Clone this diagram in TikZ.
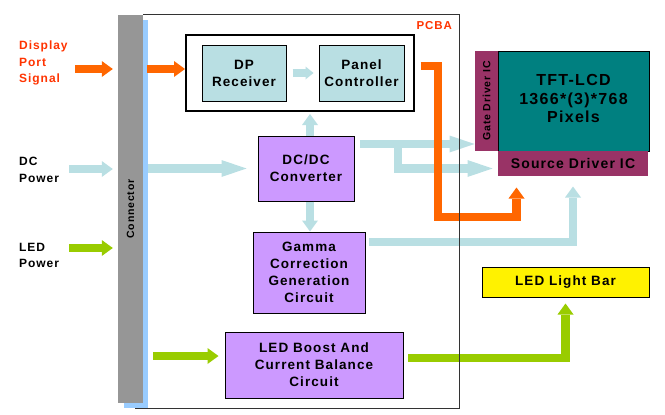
\documentclass[tikz,border=0pt]{standalone}
\usepackage{fontspec}
\setmainfont{Liberation Sans}[LetterSpace=8]
\usepackage{tikz}
\usetikzlibrary{arrows.meta}
\usetikzlibrary{positioning}
\definecolor{sigorange}{HTML}{FF6600}
\definecolor{sigred}{HTML}{FF3300}
\definecolor{pwrblue}{HTML}{B9DFE3}
\definecolor{ledgreen}{HTML}{99CC00}
\definecolor{blockviolet}{HTML}{CC99FF}
\definecolor{drvplum}{HTML}{993366}
\definecolor{lcdteal}{HTML}{008080}
\definecolor{conngray}{HTML}{969696}
\definecolor{connshade}{HTML}{99CCFF}
\tikzset{basic block/.style={draw=black,
                             line width=1pt,
                             inner sep=0pt,
                             align=center,
                             font=\bfseries\fontsize{13.5}{17}\selectfont}}
\tikzset{block/.style={basic block,fill=blockviolet}}
\tikzset{cyan block/.style={basic block,fill=pwrblue}}
\tikzset{flow/.style={line width=8.5pt,
                      line join=miter,
                      line cap=butt}}

\begin{document}
\begin{tikzpicture}
      [
      x=1pt,y=-1pt,
      short tip/.style={-{Triangle[width=16pt,length=11pt,line width=0pt]}},
      long tip/.style={-{Triangle[width=17pt,length=25pt,line width=0pt]}},
      small tip/.style={-{Triangle[width=13pt,length=8pt,line width=0pt]}},
      in label/.style={inner sep=0pt,align=left,anchor=west,
      font=\bfseries\fontsize{12}{16.5}\selectfont},
      rot label/.style={rotate=90,inner sep=0pt,
      font=\bfseries\fontsize{10.5}{13}\selectfont},
      ]
      \useasboundingbox (0,0) rectangle (665,415);

      % connector strip
      \node [fill=connshade,minimum width=24pt,minimum height=388pt,inner sep=0pt] (shade) at (136,214) {};
      \node [fill=conngray,minimum width=25pt,minimum height=388pt,inner sep=0pt] (conn) at (130.5,209) {};
      \node [rot label] (conntxt) at (conn) {Connector};

      % pcba area
      \node [minimum width=324pt,minimum height=393pt,inner sep=0pt] (pcba) at (297,211.5) {};

      % blocks
      \node [basic block,line width=2pt,fill=white,minimum width=228pt,minimum height=76pt] (dpbox) at (300,73) {};
      \node [cyan block,minimum width=84pt,minimum height=56pt] (dprx) at (244,73) {DP\\Receiver};
      \node [cyan block,minimum width=85pt,minimum height=56pt] (panel) at (361.5,73) {Panel\\Controller};
      \node [block,minimum width=96pt,minimum height=65pt] (dcdc) at (306,168.5) {DC/DC\\Converter};
      \node [block,minimum width=112pt,minimum height=81pt] (gamma) at (309,272.5) {Gamma\\Correction\\Generation\\Circuit};
      \node [block,minimum width=178pt,minimum height=66pt] (boost) at (314,365) {LED Boost And\\Current Balance\\Circuit};
      \node [basic block,draw=none,fill=drvplum,minimum width=23pt,minimum height=100pt] (gate) at (486.5,101) {};
      \node [rot label] (gatetxt) at (gate) {Gate Driver IC};
      \node [basic block,fill=lcdteal,minimum width=151pt,minimum height=100pt] (tft) at (573.5,101) {};
      \node [align=center,inner sep=0pt,font=\bfseries\fontsize{16}{18.5}\selectfont] (tfttxt) at ([yshift=2.5pt]tft) {TFT-LCD\\1366*(3)*768\\Pixels};
      \node [basic block,draw=none,fill=drvplum,minimum width=150pt,minimum height=25pt,font=\bfseries\fontsize{14}{15}\selectfont] (source) at (573,163.5) {Source Driver IC};
      \node [basic block,fill=yellow,minimum width=167pt,minimum height=30pt] (ledbar) at (565.5,282) {LED Light Bar};

      % incoming signals
      \foreach \nm/\lbl/\tcol/\acol/\ylab/\xarr/\yarr in
      {
      dps/{Display\\Port\\Signal}/sigred/sigorange/63/75/69,
      dcp/{DC\\Power}/black/pwrblue/170/69/169,
      ledp/{LED\\Power}/black/ledgreen/255.5/69/248
      }
      {
      \node [in label,text=\tcol] (\nm) at (19,\ylab) {\lbl};
      \coordinate (\nm-in) at (\xarr,\yarr);
      \draw [flow,\acol,short tip] (\nm-in) -- ([xshift=-5pt]conn.west |- \nm-in);
      }

      % arrows
      \coordinate (split) at (398,144);
      \coordinate (gammaout) at (369,242);
      \coordinate (orgdrop) at (438,217);
      \coordinate (boostin) at (0,356);
      \coordinate (boostout) at (408,358);

      \draw [flow,sigorange,short tip] ([xshift=-1pt]shade.east |- dps-in) -- (dpbox.west |- dps-in);
      \draw [flow,pwrblue,small tip,line width=8pt] ([xshift=6pt]dprx.east) -- ([xshift=-5pt]panel.west);
      \draw [flow,pwrblue,long tip] (shade.east |- dcdc) -- ([xshift=-11pt]dcdc.west);
      \draw [flow,pwrblue,short tip] ([xshift=4pt]dcdc.north) -- ([xshift=4pt,yshift=-2pt]dcdc.north |- dpbox.south);
      \draw [flow,pwrblue,short tip] ([xshift=4pt]dcdc.south) -- ([xshift=4pt]dcdc.south |- gamma.north);
      \draw [flow,pwrblue,long tip] ([xshift=5pt]dcdc.east |- split) -- (gate.west |- split);
      \draw [flow,pwrblue,long tip] (split) |- ([xshift=-5pt,yshift=-5pt]source.west);
      \draw [flow,pwrblue,short tip] (gammaout) -| ([yshift=-10pt]source.south);
      \draw [flow,sigorange,short tip] ([xshift=16pt,yshift=7pt]panel.east) -| (orgdrop)
      -| ([xshift=19pt,yshift=-11pt]source.south west);
      \draw [flow,ledgreen,short tip] ([xshift=5pt]shade.east |- boostin) -- ([xshift=-6pt]boost.west |- boostin);
      \draw [flow,ledgreen,short tip] (boostout) -| ([yshift=-6pt]ledbar.south);

      % pcba frame
      \draw [black!80,line width=1pt] (conn.north east |- pcba.north) -- (pcba.north east)
      -- (pcba.south east) -- (pcba.south west);
      \node [anchor=north east,inner sep=0pt,text=sigred,font=\bfseries\fontsize{11.5}{13}\selectfont] (pcbalbl)
      at ([xshift=-7pt,yshift=-6.5pt]pcba.north east) {PCBA};

    \end{tikzpicture}
\end{document}
